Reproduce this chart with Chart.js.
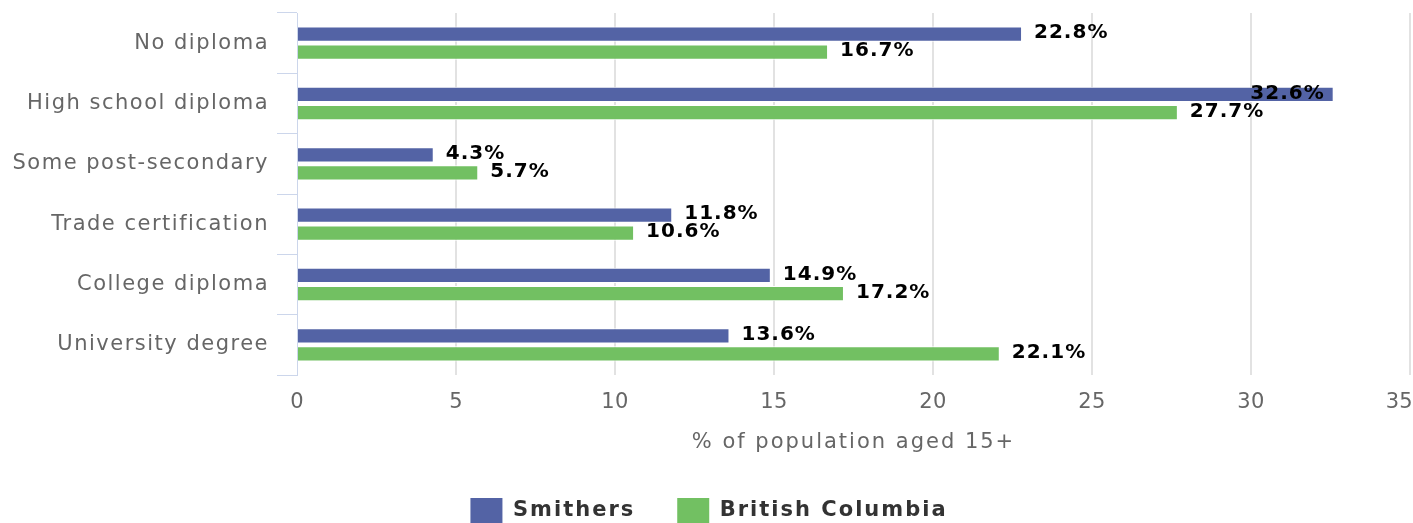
<!DOCTYPE html>
<html>
<head>
<meta charset="utf-8">
<script src="https://cdn.jsdelivr.net/npm/chart.js@4/dist/chart.umd.min.js"></script>
<style>
  html, body { margin: 0; padding: 0; background: #ffffff; }
  #wrap { width: 1413px; height: 523px; position: relative; }
</style>
</head>
<body>
<div id="wrap"><canvas id="c" width="1413" height="523"></canvas></div>
<script>
const categories = ["No diploma", "High school diploma", "Some post-secondary", "Trade certification", "College diploma", "University degree"];
const smithers = [22.8, 32.6, 4.3, 11.8, 14.9, 13.6];
const britishColumbia = [16.7, 27.7, 5.7, 10.6, 17.2, 22.1];
const seriesNames = ["Smithers", "British Columbia"];
const xTicks = [0, 5, 10, 15, 20, 25, 30, 35];
const axisTitle = "% of population aged 15+";

const FONT = "'DejaVu Sans', Verdana, sans-serif";
const LEGEND_SPACING = '2px';
const YTICK_SPACING = '1.5px';
const XTICK_SPACING = '0.3px';
const TITLE_SPACING = '2px';
const VALUE_SPACING = '1px';

function withSpacing(ctx, sp, fn) {
  const prev = ctx.letterSpacing;
  ctx.letterSpacing = sp;
  try { fn(); } finally { ctx.letterSpacing = prev; }
}

const spacingPlugin = {
  id: 'spacing',
  beforeUpdate(chart) { chart.ctx.letterSpacing = LEGEND_SPACING; },
  beforeLayout(chart) { chart.ctx.letterSpacing = LEGEND_SPACING; },
  beforeDraw(chart) {
    const ctx = chart.ctx;
    ctx.letterSpacing = LEGEND_SPACING;
    const xs = chart.scales.x, ys = chart.scales.y;
    if (!xs._wrapped) {
      const dl = xs.drawLabels.bind(xs), dt = xs.drawTitle.bind(xs);
      xs.drawLabels = (ca) => withSpacing(ctx, XTICK_SPACING, () => dl(ca));
      xs.drawTitle = () => withSpacing(ctx, TITLE_SPACING, () => dt());
      xs._wrapped = true;
    }
    if (!ys._wrapped) {
      const dl = ys.drawLabels.bind(ys);
      ys.drawLabels = (ca) => withSpacing(ctx, YTICK_SPACING, () => dl(ca));
      ys._wrapped = true;
    }
    // keep the last x tick label inside the canvas (right aligned)
    const items = xs.getLabelItems(chart.chartArea);
    if (items.length) {
      const last = items[items.length - 1];
      last.options.textAlign = 'right';
      last.options.translation[0] = chart.width;
    }
  }
};

const valueLabels = {
  id: 'valueLabels',
  afterDatasetsDraw(chart) {
    const ctx = chart.ctx;
    ctx.save();
    ctx.letterSpacing = VALUE_SPACING;
    ctx.font = "bold 20px " + FONT;
    ctx.fillStyle = '#000000';
    ctx.textBaseline = 'middle';
    chart.data.datasets.forEach((ds, di) => {
      const meta = chart.getDatasetMeta(di);
      meta.data.forEach((bar, i) => {
        const txt = ds.data[i].toFixed(1) + '%';
        const w = ctx.measureText(txt).width;
        let x = bar.x + 12;
        if (x + w > chart.width) {
          ctx.textAlign = 'right';
          x = bar.x - 9;
        } else {
          ctx.textAlign = 'left';
        }
        ctx.fillText(txt, x, bar.y - 1);
      });
    });
    ctx.restore();
  }
};

const LEGEND_PAD = 42;
const PAD_LEFT = 8;

new Chart(document.getElementById('c'), {
  type: 'bar',
  data: {
    labels: categories,
    datasets: [
      { label: seriesNames[0], data: smithers, backgroundColor: '#5363a5', borderColor: '#ffffff', borderWidth: 1, borderSkipped: 'start' },
      { label: seriesNames[1], data: britishColumbia, backgroundColor: '#72c062', borderColor: '#ffffff', borderWidth: 1, borderSkipped: 'start' }
    ]
  },
  options: {
    indexAxis: 'y',
    responsive: false,
    animation: false,
    devicePixelRatio: 1,
    layout: { padding: { top: 13, right: 3, bottom: -10, left: PAD_LEFT } },
    datasets: { bar: { categoryPercentage: 0.6, barPercentage: 0.84 } },
    scales: {
      x: {
        type: 'linear',
        min: 0, max: 35,
        afterBuildTicks(scale) { scale.ticks = xTicks.map(v => ({ value: v })); },
        afterFit(scale) { scale.height = 158 - (35 + LEGEND_PAD); scale.paddingLeft = 0; scale.paddingRight = 0; },
        grid: {
          color: ctx => (ctx.tick && ctx.tick.value === 0) ? 'rgba(0,0,0,0)' : '#e2e2e2',
          lineWidth: 2,
          drawTicks: false
        },
        border: { display: false },
        ticks: { color: '#666666', font: { family: FONT, size: 21 }, padding: 15, maxRotation: 0, autoSkip: false },
        title: { display: true, text: axisTitle, color: '#666666', font: { family: FONT, size: 21 }, padding: { top: 0, bottom: 1 } }
      },
      y: {
        type: 'category',
        offset: true,
        afterFit(scale) { scale.width = 297 - PAD_LEFT; scale.paddingTop = 0; scale.paddingBottom = 0; },
        grid: { offset: true, drawOnChartArea: false, drawTicks: true, tickLength: 20, color: '#ccd6eb', lineWidth: 1 },
        border: { display: true, color: '#ccd6eb', width: 1 },
        ticks: { color: '#666666', font: { family: FONT, size: 21 }, padding: 8, autoSkip: false }
      }
    },
    plugins: {
      legend: {
        position: 'bottom',
        onClick: null,
        labels: {
          boxWidth: 32, boxHeight: 25, padding: LEGEND_PAD,
          color: '#333333',
          font: { family: FONT, size: 21, weight: 'bold' },
          generateLabels(chart) {
            return Chart.defaults.plugins.legend.labels.generateLabels(chart).map(l => Object.assign(l, { lineWidth: 0, strokeStyle: 'rgba(0,0,0,0)' }));
          }
        }
      },
      tooltip: { enabled: false },
      title: { display: false }
    }
  },
  plugins: [spacingPlugin, valueLabels]
});
</script>
</body>
</html>
